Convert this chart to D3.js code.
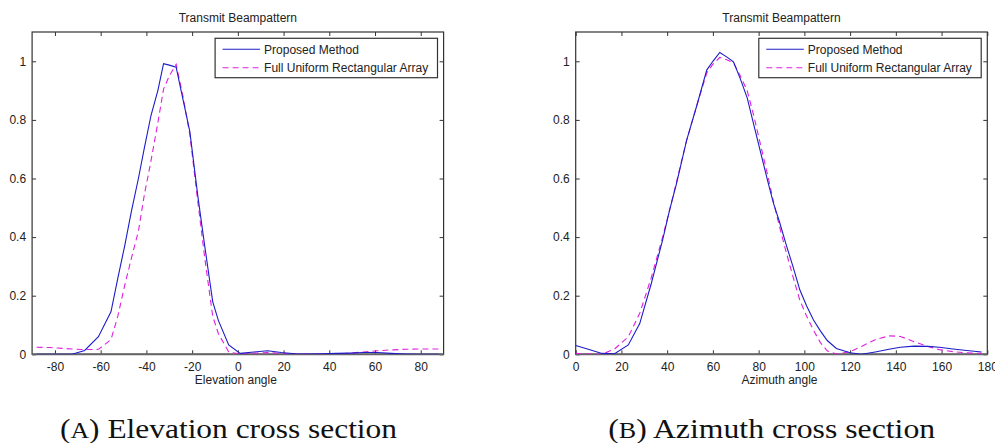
<!DOCTYPE html>
<html>
<head>
<meta charset="utf-8">
<script src="https://cdn.jsdelivr.net/npm/d3@7/dist/d3.min.js"></script>
<style>
  body { margin: 0; background: #fff; }
  svg { display: block; }
  .mat text { font-family: "Liberation Sans", Arial, sans-serif; font-size: 12px; fill: #222; }
  .cap { font-family: "Liberation Serif", "DejaVu Serif", serif; fill: #111; }
</style>
</head>
<body>
<svg id="chart" width="995" height="443"></svg>
<script>
// elevation cross section
var elevAngle = [-88, -82, -76, -72.5, -67, -61, -55.5, -52.5, -49.5, -46.5, -43.5, -41, -38, -35, -32.5, -30, -27, -24, -21, -17.5,
  -14.5, -11, -8.5, -4, 1, 7, 13, 19, 25, 31, 37, 43, 49, 55, 61, 67, 73, 79, 85, 88];
var elevProposed = [0, 0, 0, 0, 0.013, 0.06, 0.145, 0.26, 0.37, 0.49, 0.6, 0.7, 0.815, 0.9, 0.992, 0.987, 0.98, 0.87, 0.76, 0.54,
  0.37, 0.18, 0.115, 0.032, 0.003, 0.008, 0.012, 0.006, 0.002, 0.001, 0.002, 0.003, 0.004, 0.006, 0.006, 0.003, 0.001, 0, 0, 0];
var elevFull = [0.024, 0.023, 0.02, 0.018, 0.016, 0.017, 0.05, 0.13, 0.235, 0.33, 0.42, 0.54, 0.66, 0.79, 0.905, 0.95, 0.99, 0.88, 0.75, 0.52,
  0.33, 0.13, 0.07, 0.008, 0.001, 0.004, 0.006, 0.003, 0.001, 0.001, 0.001, 0.002, 0.004, 0.008, 0.012, 0.015, 0.017, 0.018, 0.018, 0.018];

// azimuth cross section
var aziAngle = [0, 5.5, 11.5, 17, 23, 28, 33, 38, 41, 44, 48.5, 53, 57.3, 60, 63, 66, 69, 72, 75, 78, 81, 84, 86.5, 89, 92, 95,
  98, 101, 104, 107, 110, 114, 120, 125, 131, 137, 142, 148, 154, 159, 165, 171, 177.5];
var aziProposed = [0.03, 0.017, 0.003, 0.002, 0.032, 0.105, 0.24, 0.39, 0.49, 0.58, 0.73, 0.85, 0.97, 1.0, 1.03, 1.015, 0.998, 0.94, 0.875,
  0.78, 0.685, 0.59, 0.515, 0.455, 0.375, 0.3, 0.22, 0.165, 0.117, 0.08, 0.047, 0.02, 0.005, 0, 0.008, 0.017, 0.024, 0.028, 0.027,
  0.024, 0.018, 0.013, 0.008];
var aziFull = [0.003, 0.001, 0, 0.018, 0.06, 0.14, 0.26, 0.4, 0.49, 0.585, 0.73, 0.85, 0.96, 0.99, 1.013, 1.005, 0.995, 0.95, 0.9,
  0.81, 0.71, 0.61, 0.52, 0.44, 0.35, 0.265, 0.185, 0.13, 0.082, 0.04, 0.012, 0.001, 0.009, 0.027, 0.05, 0.063, 0.061, 0.043, 0.027,
  0.016, 0.009, 0.005, 0.003];

var elevTicks = [-80, -60, -40, -20, 0, 20, 40, 60, 80];
var aziTicks = [0, 20, 40, 60, 80, 100, 120, 140, 160, 180];
var yTicks = [0, 0.2, 0.4, 0.6, 0.8, 1];
var legendNames = ["Proposed Method", "Full Uniform Rectangular Array"];

var svg = d3.select("#chart");
svg.append("rect").attr("width", 995).attr("height", 443).attr("fill", "#fff");

function drawPanel(opt) {
  var g = svg.append("g").attr("class", "mat");
  var x = d3.scaleLinear().domain(opt.xDomain).range([opt.left, opt.right]);
  var y = d3.scaleLinear().domain([0, 1.1]).range([354.3, 32]);

  var clipId = "clip" + opt.id;
  svg.append("clipPath").attr("id", clipId)
    .append("rect")
    .attr("x", opt.left).attr("y", 32)
    .attr("width", opt.right - opt.left).attr("height", 354.3 - 32);

  // inward ticks on all four sides, like a matlab box
  var tk = 4;
  g.append("g").attr("transform", "translate(0,354.3)")
    .call(d3.axisBottom(x).tickValues(opt.xTicks).tickSize(-tk).tickPadding(8).tickFormat(d => String(d)));
  g.append("g").attr("transform", "translate(0,32)")
    .call(d3.axisTop(x).tickValues(opt.xTicks).tickSize(-tk).tickFormat(""));
  g.append("g").attr("transform", "translate(" + opt.left + ",0)")
    .call(d3.axisLeft(y).tickValues(yTicks).tickSize(-tk).tickPadding(6).tickFormat(d => String(d)));
  g.append("g").attr("transform", "translate(" + opt.right + ",0)")
    .call(d3.axisRight(y).tickValues(yTicks).tickSize(-tk).tickFormat(""));
  g.selectAll(".domain").remove();
  g.selectAll(".tick line").attr("stroke", "#333");
  g.selectAll(".tick text").attr("fill", "#222").attr("font-size", 12)
    .attr("font-family", "Liberation Sans, Arial, sans-serif");

  g.append("rect")
    .attr("x", opt.left).attr("y", 32)
    .attr("width", opt.right - opt.left).attr("height", 354.3 - 32)
    .attr("fill", "none").attr("stroke", "#333").attr("stroke-width", 1.2);
  g.append("line")
    .attr("x1", opt.left).attr("x2", opt.right).attr("y1", 354.3).attr("y2", 354.3)
    .attr("stroke", "#666").attr("stroke-width", 2);

  var line = d3.line().x(d => x(d[0])).y(d => y(d[1]));
  var plot = g.append("g").attr("clip-path", "url(#" + clipId + ")");
  plot.append("path")
    .datum(d3.zip(opt.angles, opt.full))
    .attr("d", line).attr("fill", "none")
    .attr("stroke", "#e020e0").attr("stroke-width", 1.1).attr("stroke-dasharray", "6,4");
  plot.append("path")
    .datum(d3.zip(opt.angles, opt.proposed))
    .attr("d", line).attr("fill", "none")
    .attr("stroke", "#1c1cc8").attr("stroke-width", 1.1);

  var mid = (opt.left + opt.right) / 2;
  g.append("text").attr("x", mid).attr("y", 21.5).attr("text-anchor", "middle").text("Transmit Beampattern");
  g.append("text").attr("x", mid - 2).attr("y", 384).attr("text-anchor", "middle").text(opt.xLabel);

  // legend
  var lx = opt.right - 228.5;
  var leg = g.append("g");
  leg.append("rect").attr("x", lx).attr("y", 38.3).attr("width", 222.4).attr("height", 39.4)
    .attr("fill", "#fff").attr("stroke", "#333").attr("stroke-width", 1.2);
  legendNames.forEach(function (name, i) {
    var ly = 49.3 + i * 18.4;
    leg.append("line").attr("x1", lx + 7.5).attr("x2", lx + 45).attr("y1", ly).attr("y2", ly)
      .attr("stroke", i === 0 ? "#1c1cc8" : "#e020e0").attr("stroke-width", 1.1)
      .attr("stroke-dasharray", i === 0 ? null : "6,4");
    leg.append("text").attr("x", lx + 49).attr("y", ly + 4.3).text(name);
  });

  // caption under the panel
  var cap = svg.append("text").attr("class", "cap")
    .attr("x", opt.capX).attr("y", 438).attr("text-anchor", "middle")
    .attr("font-size", 28).attr("textLength", opt.capW).attr("lengthAdjust", "spacingAndGlyphs");
  cap.append("tspan").text("(");
  cap.append("tspan").attr("font-size", 23).text(opt.capLetter);
  cap.append("tspan").text(") " + opt.capText);
}

drawPanel({
  id: "a", left: 32.1, right: 443.6, xDomain: [-90, 90], xTicks: elevTicks,
  angles: elevAngle, proposed: elevProposed, full: elevFull, xLabel: "Elevation angle",
  capX: 228.5, capW: 337, capLetter: "A", capText: "Elevation cross section"
});
drawPanel({
  id: "b", left: 575.7, right: 987.3, xDomain: [0, 180], xTicks: aziTicks,
  angles: aziAngle, proposed: aziProposed, full: aziFull, xLabel: "Azimuth angle",
  capX: 771.7, capW: 327, capLetter: "B", capText: "Azimuth cross section"
});
</script>
</body>
</html>
